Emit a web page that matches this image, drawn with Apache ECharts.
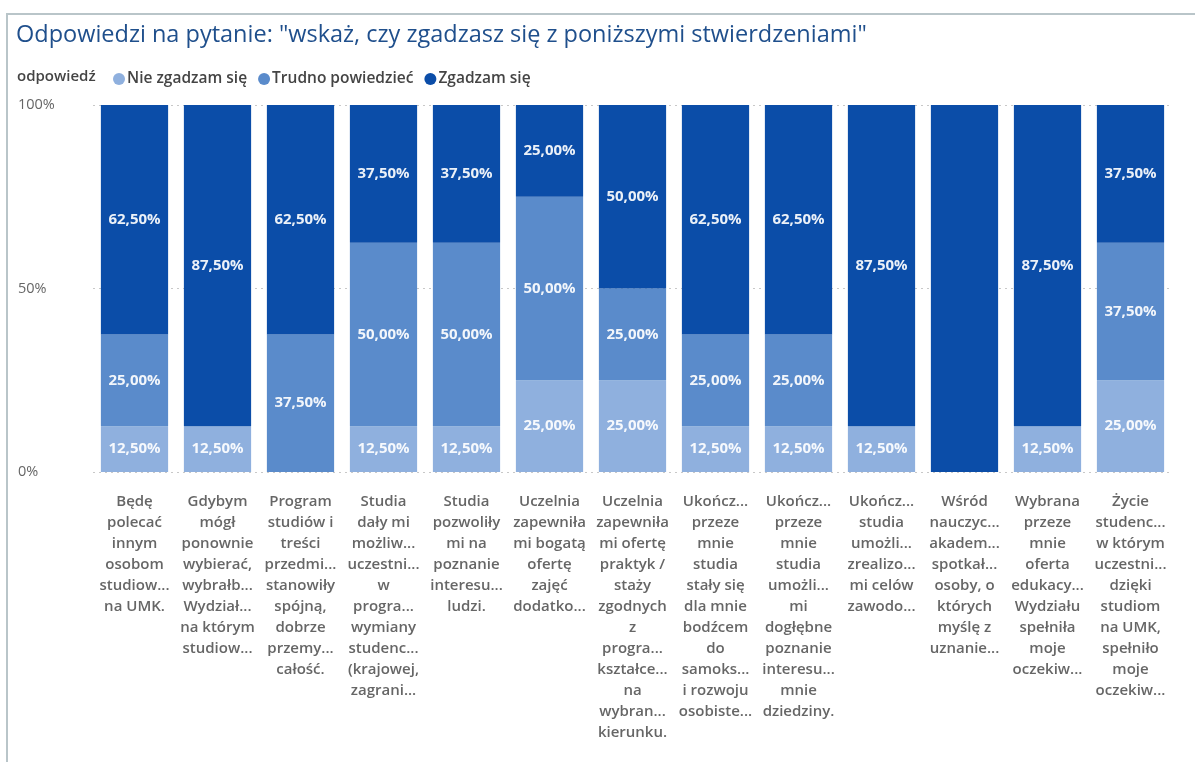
<!DOCTYPE html>
<html>
<head>
<meta charset="utf-8">
<script src="https://cdn.jsdelivr.net/npm/echarts@6/dist/echarts.min.js"></script>
<style>
  html, body { margin: 0; padding: 0; background: #fff; }
  #chart { position: absolute; left: 0; top: 0; width: 1195px; height: 762px; }
  .frame {
    position: absolute; left: 6px; top: 13px; width: 1189px; height: 749px;
    border-top: 2px solid #b9c5c9; border-left: 2px solid #b9c5c9;
    box-sizing: border-box; pointer-events: none;
  }
</style>
</head>
<body>
<div id="chart"></div>
<div class="frame"></div>
<script>
// pytania (etykiety osi X tak jak ucięte na obrazku)
const categories = [
  'Będę\npolecać\ninnym\nosobom\nstudiow...\nna UMK.',
  'Gdybym\nmógł\nponownie\nwybierać,\nwybrałb...\nWydział...\nna którym\nstudiow...',
  'Program\nstudiów i\ntreści\nprzedmi...\nstanowiły\nspójną,\ndobrze\nprzemy...\ncałość.',
  'Studia\ndały mi\nmożliw...\nuczestni...\nw\nprogra...\nwymiany\nstudenc...\n(krajowej,\nzagrani...',
  'Studia\npozwoliły\nmi na\npoznanie\ninteresu...\nludzi.',
  'Uczelnia\nzapewniła\nmi bogatą\nofertę\nzajęć\ndodatko...',
  'Uczelnia\nzapewniła\nmi ofertę\npraktyk /\nstaży\nzgodnych\nz\nprogra...\nkształce...\nna\nwybran...\nkierunku.',
  'Ukończ...\nprzeze\nmnie\nstudia\nstały się\ndla mnie\nbodźcem\ndo\nsamoks...\ni rozwoju\nosobiste...',
  'Ukończ...\nprzeze\nmnie\nstudia\numożli...\nmi\ndogłębne\npoznanie\ninteresu...\nmnie\ndziedziny.',
  'Ukończ...\nstudia\numożli...\nzrealizo...\nmi celów\nzawodo...',
  'Wśród\nnauczyc...\nakadem...\nspotkał...\nosoby, o\nktórych\nmyślę z\nuznanie...',
  'Wybrana\nprzeze\nmnie\noferta\nedukacy...\nWydziału\nspełniła\nmoje\noczekiw...',
  'Życie\nstudenc...\nw którym\nuczestni...\ndzięki\nstudiom\nna UMK,\nspełniło\nmoje\noczekiw...'
]

const nieZgadzam = [12.5, 12.5, 0, 12.5, 12.5, 25, 25, 12.5, 12.5, 12.5, 0, 12.5, 25]
const trudno     = [25, 0, 37.5, 50, 50, 50, 25, 25, 25, 0, 0, 0, 37.5]
const zgadzam    = [62.5, 87.5, 62.5, 37.5, 37.5, 25, 50, 62.5, 62.5, 87.5, 100, 87.5, 37.5]

const yTicks = [0, 50, 100]

const seriesNames = ['Nie zgadzam się', 'Trudno powiedzieć', 'Zgadzam się']
const colors = ['#8fb0de', '#5a8bcb', '#0b4da8']

const chart = echarts.init(document.getElementById('chart'))

function pctLabel(p) {
  const v = p.value
  if (!v || v >= 100) return ''
  return v.toFixed(2).replace('.', ',') + '%'
}

function makeSeries(name, data, color) {
  return {
    name: name,
    type: 'bar',
    stack: 'all',
    data: data,
    barCategoryGap: '19%',
    itemStyle: { color: color },
    label: {
      show: true,
      position: 'inside',
      formatter: pctLabel,
      color: 'rgba(255,255,255,0.92)',
      fontFamily: 'Open Sans',
      fontWeight: 'bold',
      fontSize: 15,
    },
    emphasis: { disabled: true },
  }
}

const option = {
  animation: false,
  textStyle: { fontFamily: 'Open Sans' },
  title: [
    {
      text: 'Odpowiedzi na pytanie: "wskaż, czy zgadzasz się z poniższymi stwierdzeniami"',
      left: 11,
      top: 18,
      textStyle: { color: '#1f4f8c', fontSize: 23.5, fontWeight: 'normal', fontFamily: 'Open Sans' },
    },
    {
      text: 'odpowiedź',
      left: 12,
      top: 64,
      textStyle: { color: '#444', fontSize: 15, fontWeight: 600, fontFamily: 'Open Sans' },
    },
  ],
  legend: {
    left: 108,
    top: 66,
    icon: 'circle',
    itemWidth: 12,
    itemHeight: 12,
    itemGap: 11,
    data: seriesNames,
    textStyle: { color: '#444', fontSize: 15.5, fontWeight: 600, padding: [0, 0, 0, -3] },
  },
  grid: { left: 93, right: 23, top: 105, bottom: 290, containLabel: false },
  xAxis: {
    type: 'category',
    data: categories,
    axisLine: { show: false },
    axisTick: { show: false },
    axisLabel: {
      interval: 0,
      margin: 19,
      color: '#666',
      fontSize: 15,
      fontWeight: 600,
      lineHeight: 21,
      align: 'center',
    },
  },
  yAxis: {
    type: 'value',
    min: yTicks[0],
    max: yTicks[yTicks.length - 1],
    interval: 50,
    axisLine: { show: false },
    axisTick: { show: false },
    splitLine: { lineStyle: { color: '#c8c8c8', type: [2, 4], width: 1 } },
    axisLabel: {
      formatter: '{value}%',
      color: '#666',
      fontSize: 14.5,
      align: 'left',
      margin: 75,
    },
  },
  series: [
    makeSeries(seriesNames[0], nieZgadzam, colors[0]),
    makeSeries(seriesNames[1], trudno, colors[1]),
    makeSeries(seriesNames[2], zgadzam, colors[2]),
  ],
}

chart.setOption(option)
</script>
</body>
</html>
